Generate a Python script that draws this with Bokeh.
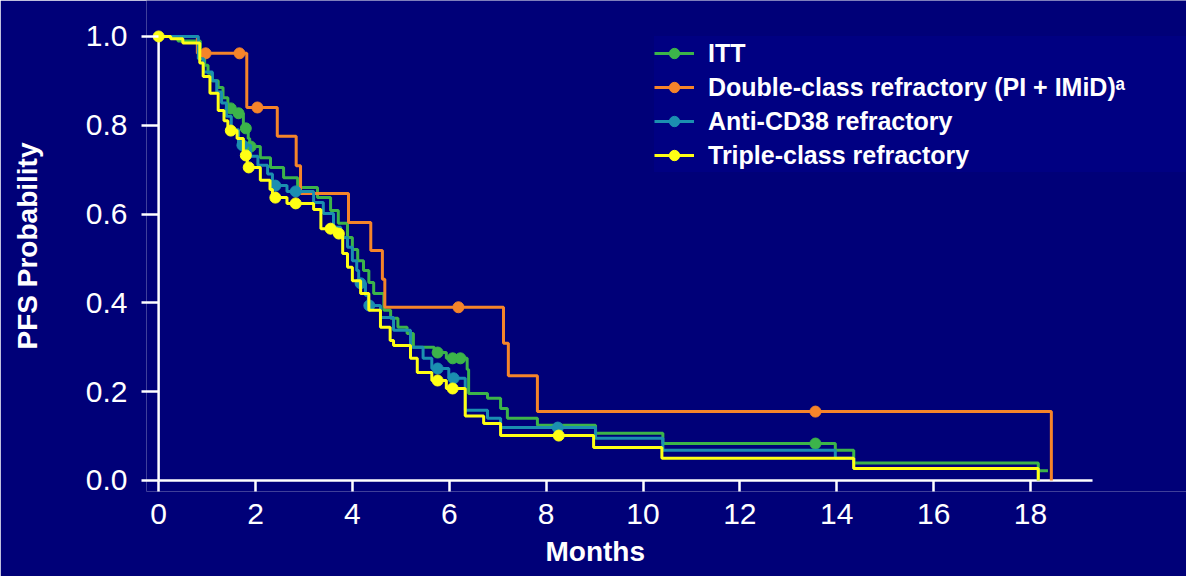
from bokeh.plotting import figure
from bokeh.models import ColumnDataSource, Range1d, FixedTicker, Legend, LegendItem, PrintfTickFormatter, Title
from bokeh.embed import file_html
from bokeh.resources import INLINE

# step curves: time (months) where the step happens, survival after the step
itt_t = [0, 0.40, 0.86, 0.95, 1.02, 1.10, 1.23, 1.33, 1.43, 1.55, 1.75, 1.85, 1.88, 2.10, 2.31, 2.58, 2.87, 3.28, 3.55, 3.71,
         3.90, 4.00, 4.11, 4.23, 4.34, 4.44, 4.65, 4.79, 4.94, 5.13, 5.26, 5.69, 5.94, 6.37, 6.40, 6.79, 7.06, 7.20, 7.82, 9.02,
         10.41, 13.97, 14.35, 18.16, 18.36]
itt_s = [1.0, 0.99, 0.957, 0.935, 0.917, 0.90, 0.885, 0.862, 0.838, 0.827, 0.793, 0.77, 0.752, 0.727, 0.705, 0.682, 0.66, 0.637, 0.608, 0.579,
         0.547, 0.52, 0.495, 0.473, 0.446, 0.421, 0.383, 0.365, 0.345, 0.331, 0.30, 0.288, 0.275, 0.25, 0.196, 0.185, 0.162, 0.14, 0.124, 0.106,
         0.083, 0.068, 0.039, 0.022, 0.022]
itt_ct = [1.49, 1.65, 1.80, 1.90, 5.76, 6.07, 6.23, 13.56]
itt_cs = [0.838, 0.827, 0.793, 0.752, 0.288, 0.275, 0.275, 0.083]

dbl_t = [0, 0.80, 1.82, 2.45, 2.84, 2.93, 3.92, 4.38, 4.62, 4.67, 7.12, 7.22, 7.82, 18.43]
dbl_s = [1.0, 0.962, 0.84, 0.775, 0.709, 0.646, 0.581, 0.518, 0.453, 0.39, 0.309, 0.236, 0.155, 0.0]
dbl_ct = [0.97, 1.67, 2.04, 6.19, 13.56]
dbl_cs = [0.962, 0.962, 0.84, 0.39, 0.155]

cd38_t = [0, 0.82, 0.93, 1.11, 1.20, 1.30, 1.40, 1.50, 1.65, 1.90, 2.05, 2.25, 2.35, 2.65, 3.20, 3.40, 3.61, 3.76, 3.90, 4.00,
          4.09, 4.13, 4.27, 4.33, 4.58, 4.85, 5.20, 5.46, 5.64, 5.99, 6.33, 6.79, 7.06, 9.02, 10.41, 13.97, 14.35, 18.16]
cd38_s = [1.0, 0.95, 0.92, 0.90, 0.875, 0.85, 0.82, 0.79, 0.755, 0.73, 0.71, 0.69, 0.664, 0.651, 0.626, 0.601, 0.57, 0.547, 0.525, 0.495,
          0.473, 0.444, 0.417, 0.394, 0.367, 0.338, 0.30, 0.275, 0.252, 0.23, 0.158, 0.14, 0.119, 0.095, 0.068, 0.05, 0.027, 0.0]
cd38_ct = [1.73, 2.41, 2.83, 4.17, 4.35, 5.76, 6.09, 8.24]
cd38_cs = [0.755, 0.664, 0.651, 0.444, 0.394, 0.252, 0.23, 0.119]

tcr_t = [0, 0.25, 0.50, 0.85, 0.92, 1.06, 1.23, 1.35, 1.43, 1.62, 1.75, 1.83, 2.10, 2.30, 2.35, 2.65, 3.20, 3.35, 3.69, 3.80,
         3.90, 4.00, 4.17, 4.34, 4.58, 4.78, 4.85, 5.20, 5.34, 5.64, 5.94, 6.33, 6.71, 7.06, 8.98, 10.39, 14.35, 18.16]
tcr_s = [1.0, 0.995, 0.985, 0.94, 0.91, 0.872, 0.833, 0.81, 0.788, 0.77, 0.732, 0.705, 0.676, 0.655, 0.637, 0.624, 0.61, 0.567, 0.556, 0.511,
         0.48, 0.45, 0.421, 0.383, 0.345, 0.315, 0.304, 0.275, 0.243, 0.225, 0.207, 0.145, 0.128, 0.101, 0.074, 0.05, 0.027, 0.0]
tcr_ct = [0, 1.49, 1.80, 1.86, 2.41, 2.83, 3.55, 3.72, 5.76, 6.07, 8.26]
tcr_cs = [1.0, 0.788, 0.732, 0.705, 0.637, 0.624, 0.567, 0.556, 0.225, 0.207, 0.101]

x_ticks = [0, 2, 4, 6, 8, 10, 12, 14, 16, 18]
y_ticks = [0.0, 0.2, 0.4, 0.6, 0.8, 1.0]
x_axis_end = 19.28

BG = "#000078"
FONT = "Liberation Sans"

# the frame runs to the right and top edges so the legend box is not clipped
p = figure(width=1186, height=576, output_backend="svg", toolbar_location=None,
           x_range=Range1d(-0.25, 21.22), y_range=Range1d(-0.025, 1.081),
           min_border_left=146, min_border_right=0, min_border_top=0, min_border_bottom=85)
p.background_fill_color = BG
p.border_fill_color = BG
p.outline_line_color = None
p.grid.visible = False

# axis lines sit on x=0 / y=0, the frame keeps a little room for the markers
p.segment(x0=[0], y0=[0], x1=[0], y1=[1.0], line_color="white", line_width=2.5)
p.segment(x0=[0], y0=[0], x1=[x_axis_end], y1=[0], line_color="white", line_width=2.5)

for ax in (p.xaxis[0], p.yaxis[0]):
    ax.axis_line_color = None
    ax.major_tick_line_color = "white"
    ax.major_tick_line_width = 2.5
    ax.minor_tick_line_color = None
    ax.major_label_text_color = "white"
    ax.major_label_text_font = FONT
    ax.major_label_text_font_size = "30px"
    ax.axis_label_text_color = "white"
    ax.axis_label_text_font = FONT
    ax.axis_label_text_font_style = "bold"
    ax.axis_label_text_font_size = "28px"

p.xaxis.ticker = FixedTicker(ticks=x_ticks)
p.xaxis.major_tick_in = 11
p.xaxis.major_tick_out = 0
p.xaxis.major_label_standoff = 12

# x label sits under the drawn axis, not under the whole (wider) frame
p.add_layout(Title(text="Months", align="left", offset=399, standoff=15,
                   vertical_align="bottom",
                   text_color="white", text_font=FONT, text_font_style="bold",
                   text_font_size="28px"), "below")

p.yaxis.ticker = FixedTicker(ticks=y_ticks)
p.yaxis.formatter = PrintfTickFormatter(format="%.1f")
p.yaxis.major_tick_in = 12
p.yaxis.major_tick_out = 5
p.yaxis.major_label_standoff = 14
p.yaxis.axis_label = "PFS Probability"
p.yaxis.axis_label_standoff = 40

series = [
    ("ITT", itt_t, itt_s, itt_ct, itt_cs, "#3cb44a"),
    ("Double-class refractory (PI + IMiD)ᵃ", dbl_t, dbl_s, dbl_ct, dbl_cs, "#f5842a"),
    ("Anti-CD38 refractory", cd38_t, cd38_s, cd38_ct, cd38_cs, "#1b8fb0"),
    ("Triple-class refractory", tcr_t, tcr_s, tcr_ct, tcr_cs, "#ffff14"),
]

items = []
for name, t, s, ct, cs, col in series:
    src = ColumnDataSource(data=dict(t=t, s=s))
    r_line = p.step(x="t", y="s", source=src, mode="after", line_color=col, line_width=3)
    csrc = ColumnDataSource(data=dict(t=ct, s=cs))
    r_dot = p.scatter(x="t", y="s", source=csrc, size=11, fill_color=col, line_color=col)
    items.append(LegendItem(label=name, renderers=[r_line, r_dot]))

legend = Legend(items=items, location=(508, 319), orientation="vertical",
                background_fill_color="#000082", background_fill_alpha=1.0,
                border_line_color=None, padding=26, spacing=0,
                label_height=34, glyph_height=26, glyph_width=40, label_standoff=14,
                label_width=480,
                label_text_color="white", label_text_font=FONT,
                label_text_font_style="bold", label_text_font_size="25px")
p.add_layout(legend)

open("out.html", "w").write(file_html(p, INLINE))
